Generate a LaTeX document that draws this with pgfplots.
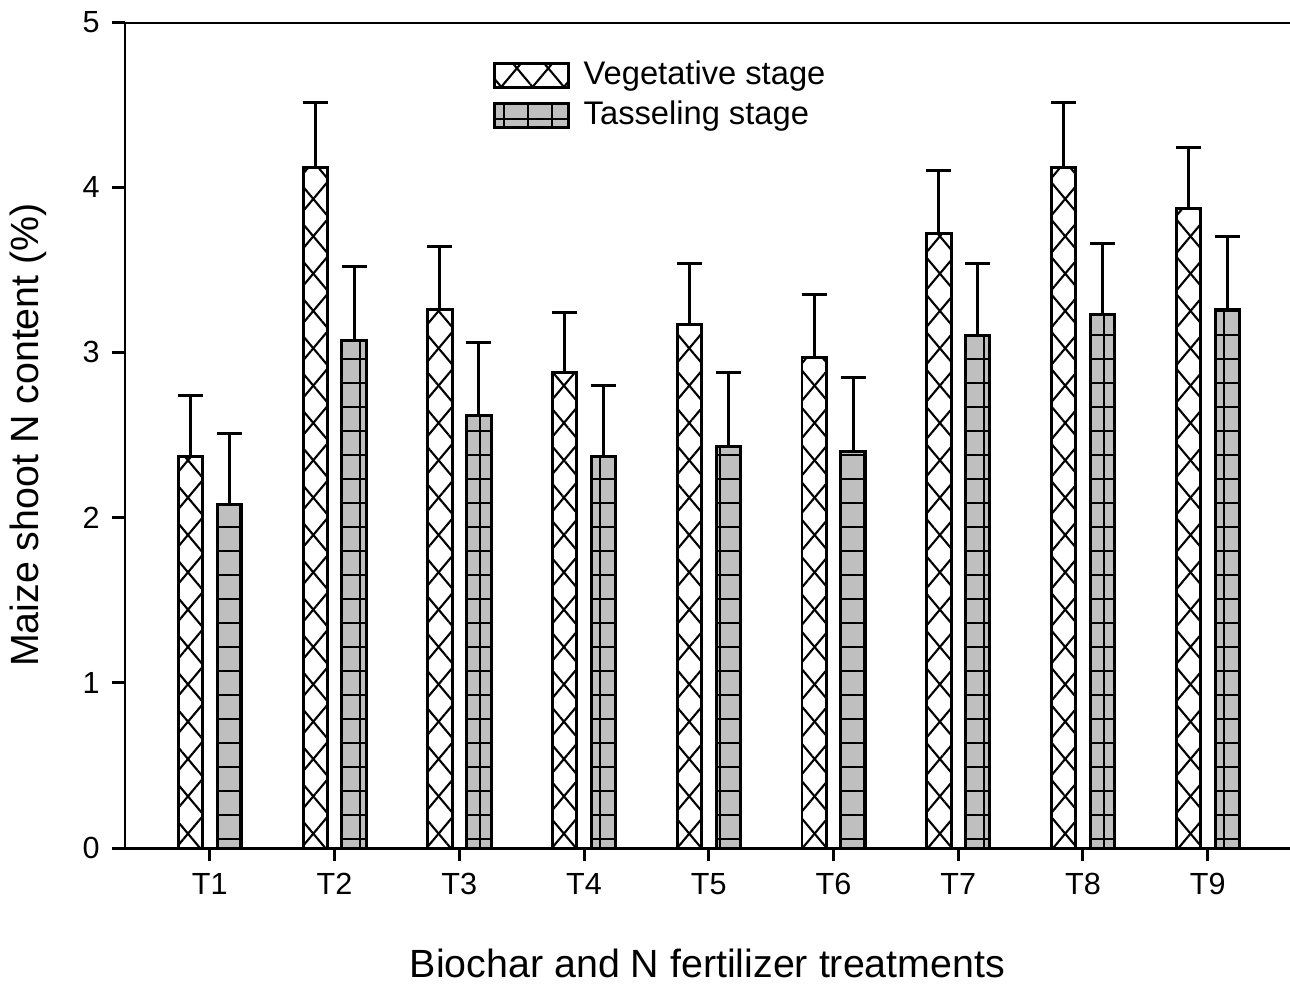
\documentclass[border=0pt]{standalone}
\usepackage{fontspec}
\setmainfont{Liberation Sans}
\usepackage{pgfplots}
\pgfplotsset{compat=1.18}
\usepackage{pgfplotstable}
\usetikzlibrary{patterns.meta}

\pgfplotstableread{
x y err
1 2.37 0.37
2 4.12 0.39
3 3.26 0.38
4 2.88 0.36
5 3.17 0.37
6 2.97 0.38
7 3.72 0.38
8 4.12 0.39
9 3.87 0.37
}\veg
\pgfplotstableread{
x y err
1 2.08 0.43
2 3.07 0.45
3 2.62 0.44
4 2.37 0.43
5 2.43 0.45
6 2.40 0.45
7 3.10 0.44
8 3.23 0.43
9 3.26 0.44
}\tas

\pgfplotsset{myerr/.style={
  error bars/y dir=plus, error bars/y explicit,
  error bars/error bar style={line width=0.85pt, black, solid},
  error bars/error mark options={line width=0.85pt, mark size=1.25mm, rotate=90, black, solid},
}}

\begin{document}
\begin{tikzpicture}
\useasboundingbox (-12.5mm,-13.5mm) rectangle (116.5mm,84.8mm);
\begin{axis}[
  at={(0,0)}, anchor=south west,
  scale only axis, width=116.5mm, height=82.6mm,
  xmin=0.32, xmax=9.66, ymin=0, ymax=5,
  axis x line*=bottom, axis y line*=left,
  axis line style={line width=0.85pt, -},
  tick style={line width=0.85pt, black},
  tick align=outside, major tick length=1.3mm,
  xtick={1,...,9}, xticklabels={T1,T2,T3,T4,T5,T6,T7,T8,T9},
  ytick={0,1,2,3,4,5},
  /pgf/number format/assume math mode=true,
  ticklabel style={font=\fontsize{8.7}{10}\selectfont},
  xlabel={Biochar and N fertilizer treatments},
  ylabel={Maize shoot N content (\%)},
  every axis x label/.style={at={(rel axis cs:0.5,0)}, yshift=-11.5mm, anchor=center,
    font=\fontsize{11.2}{13}\selectfont},
  every axis y label/.style={at={(rel axis cs:0,0.5)}, xshift=-9.7mm, rotate=90, anchor=center,
    font=\fontsize{11.2}{13}\selectfont},
  ybar, bar width=0.195,
  legend style={at={(rel axis cs:0.315,0.962)}, anchor=north west, draw=none, fill=none,
    font=\fontsize{9.3}{11}\selectfont, row sep=-0.3mm, inner sep=0pt},
  legend cell align=left,
  legend image code/.code={\draw[#1] (0mm,-1.2mm) rectangle (7.4mm,1.2mm);
    \path (8.1mm,0);},
]
\addplot[myerr, bar shift=-0.155, draw=black, line width=0.85pt, fill=white,
  postaction={pattern={Lines[angle=50,distance=2.4mm,line width=0.6pt]}},
  postaction={pattern={Lines[angle=-50,distance=2.4mm,line width=0.6pt]}}]
  table[x=x, y=y, y error=err] {\veg};
\addlegendentry{Vegetative stage}
\addplot[myerr, bar shift=0.157, draw=black, line width=0.85pt, fill=black!25,
  postaction={pattern={Hatch[angle=0,distance=2.4mm,line width=0.6pt]}}]
  table[x=x, y=y, y error=err] {\tas};
\addlegendentry{Tasseling stage}
\draw[line width=0.85pt] (rel axis cs:0,1) -- (rel axis cs:1,1);
\end{axis}
\end{tikzpicture}
\end{document}
